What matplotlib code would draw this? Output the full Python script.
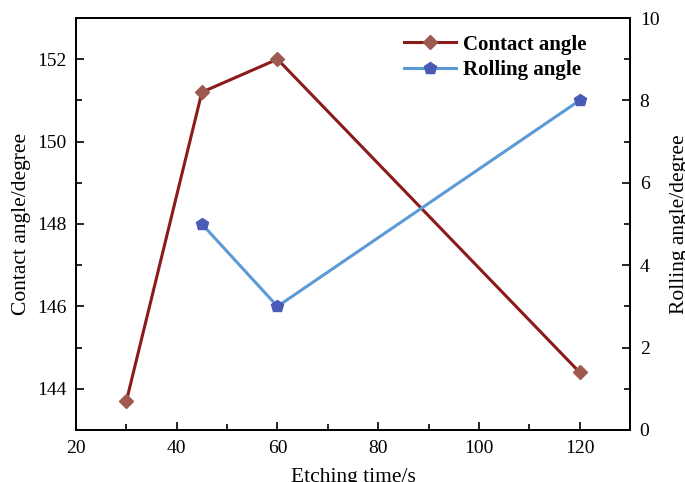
import matplotlib
matplotlib.use("Agg")
import matplotlib.pyplot as plt
from matplotlib.ticker import MultipleLocator

plt.rcParams['font.family'] = ['Liberation Serif', 'DejaVu Serif']
plt.rcParams['mathtext.fontset'] = 'stix'

contact_x = [30, 45, 60, 120]
contact_y = [143.7, 151.2, 152.0, 144.4]
rolling_x = [45, 60, 120]
rolling_y = [5, 3, 8]

fig = plt.figure(figsize=(6.85, 4.82), dpi=100)
ax = fig.add_axes([76/685, 1-430/482, (630-76)/685, (430-18)/482])
ax2 = ax.twinx()

l1, = ax.plot(contact_x, contact_y, color='#8B1A1A', lw=2.2, marker='D', ms=7,
              markerfacecolor='#9E5A50', markeredgecolor='#9E5A50', label='Contact angle')
l2, = ax2.plot(rolling_x, rolling_y, color='#5B9BD5', lw=2.2, marker='p', ms=9,
               markerfacecolor='#4A5BB5', markeredgecolor='#4A5BB5', label='Rolling angle')

ax.set_xlim(20, 130)
ax.set_ylim(143, 153)
ax2.set_ylim(0, 10)
ax.xaxis.set_major_locator(MultipleLocator(20))
ax.xaxis.set_minor_locator(MultipleLocator(10))
ax.yaxis.set_major_locator(MultipleLocator(2))
ax.yaxis.set_minor_locator(MultipleLocator(1))
ax2.yaxis.set_major_locator(MultipleLocator(2))
ax2.yaxis.set_minor_locator(MultipleLocator(1))

for a in (ax, ax2):
    a.tick_params(which='both', direction='in', labelsize=14, width=1.2, pad=7)
    a.tick_params(which='major', length=6)
    a.tick_params(which='minor', length=4)
    for s in a.spines.values():
        s.set_linewidth(1.3)
ax.tick_params(axis='x', which='both', top=False)
ax.tick_params(axis='y', which='both', right=False)

ax.set_xlabel('Etching time/s', fontsize=15.5, labelpad=8)
ax.set_ylabel('Contact angle/degree', fontsize=15.5, labelpad=4)
ax2.set_ylabel('Rolling angle/degree', fontsize=15.5, labelpad=8)

leg = ax.legend(handles=[l1, l2], loc='upper left', bbox_to_anchor=(0.57, 0.99),
                frameon=False, prop={'weight': 'bold', 'size': 15},
                handlelength=2.5, handletextpad=0.3, borderaxespad=0.2, labelspacing=0.25)

fig.savefig('out.png', dpi=100)
